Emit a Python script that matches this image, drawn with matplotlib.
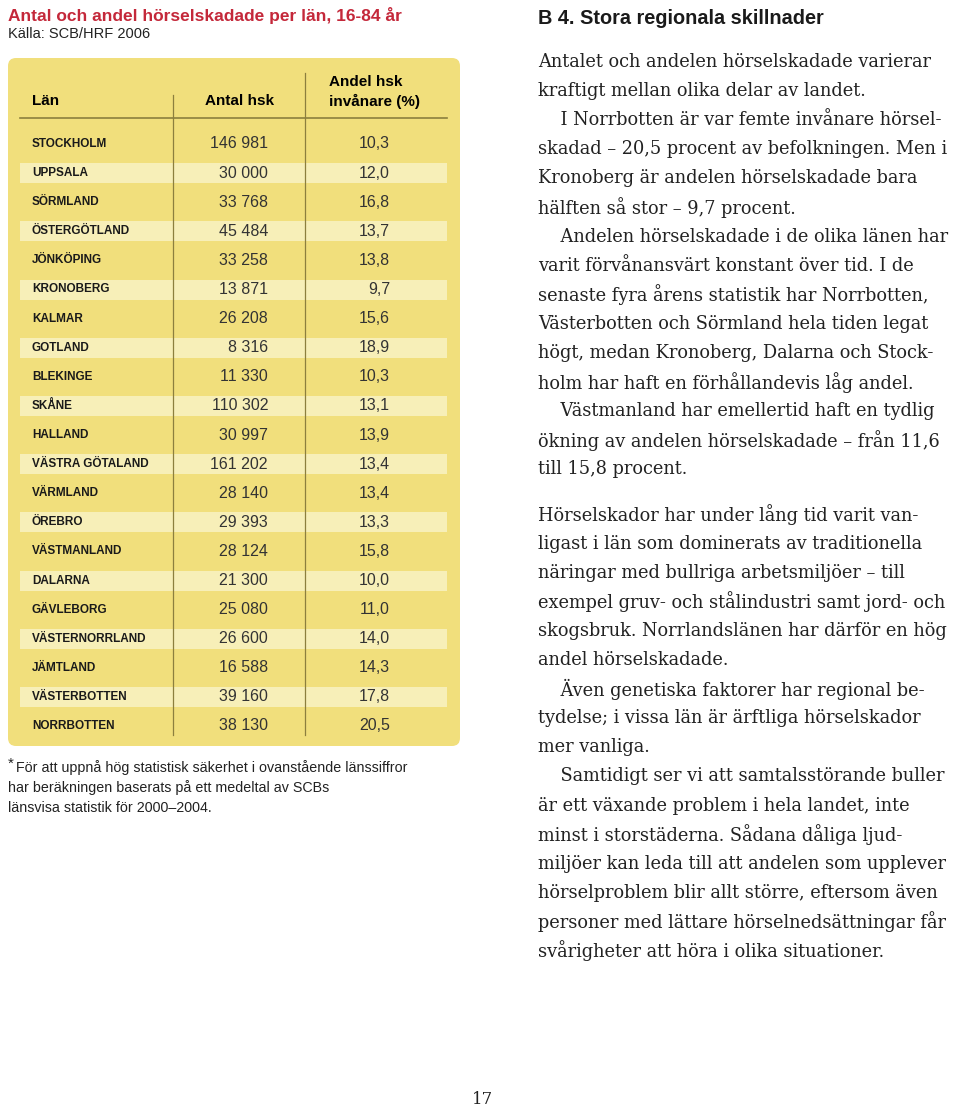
import matplotlib.pyplot as plt
from matplotlib.patches import FancyBboxPatch, Rectangle

# table data
lan = ['STOCKHOLM', 'UPPSALA', 'SÖRMLAND', 'ÖSTERGÖTLAND', 'JÖNKÖPING', 'KRONOBERG',
       'KALMAR', 'GOTLAND', 'BLEKINGE', 'SKÅNE', 'HALLAND', 'VÄSTRA GÖTALAND',
       'VÄRMLAND', 'ÖREBRO', 'VÄSTMANLAND', 'DALARNA', 'GÄVLEBORG',
       'VÄSTERNORRLAND', 'JÄMTLAND', 'VÄSTERBOTTEN', 'NORRBOTTEN']
antal = [146981, 30000, 33768, 45484, 33258, 13871, 26208, 8316, 11330, 110302,
         30997, 161202, 28140, 29393, 28124, 21300, 25080, 26600, 16588, 39160, 38130]
andel = [10.3, 12.0, 16.8, 13.7, 13.8, 9.7, 15.6, 18.9, 10.3, 13.1, 13.9, 13.4,
         13.4, 13.3, 15.8, 10.0, 11.0, 14.0, 14.3, 17.8, 20.5]

# body text of the right column (indent marks a new paragraph)
body = [
    "Antalet och andelen hörselskadade varierar",
    "kraftigt mellan olika delar av landet.",
    "    I Norrbotten är var femte invånare hörsel-",
    "skadad – 20,5 procent av befolkningen. Men i",
    "Kronoberg är andelen hörselskadade bara",
    "hälften så stor – 9,7 procent.",
    "    Andelen hörselskadade i de olika länen har",
    "varit förvånansvärt konstant över tid. I de",
    "senaste fyra årens statistik har Norrbotten,",
    "Västerbotten och Sörmland hela tiden legat",
    "högt, medan Kronoberg, Dalarna och Stock-",
    "holm har haft en förhållandevis låg andel.",
    "    Västmanland har emellertid haft en tydlig",
    "ökning av andelen hörselskadade – från 11,6",
    "till 15,8 procent.",
    "",
    "Hörselskador har under lång tid varit van-",
    "ligast i län som dominerats av traditionella",
    "näringar med bullriga arbetsmiljöer – till",
    "exempel gruv- och stålindustri samt jord- och",
    "skogsbruk. Norrlandslänen har därför en hög",
    "andel hörselskadade.",
    "    Även genetiska faktorer har regional be-",
    "tydelse; i vissa län är ärftliga hörselskador",
    "mer vanliga.",
    "    Samtidigt ser vi att samtalsstörande buller",
    "är ett växande problem i hela landet, inte",
    "minst i storstäderna. Sådana dåliga ljud-",
    "miljöer kan leda till att andelen som upplever",
    "hörselproblem blir allt större, eftersom även",
    "personer med lättare hörselnedsättningar får",
    "svårigheter att höra i olika situationer.",
]

sans = ['Liberation Sans', 'DejaVu Sans']
serif = ['DejaVu Serif']

fig = plt.figure(figsize=(9.6, 11.08), dpi=100)
ax = fig.add_axes([0, 0, 1, 1])
ax.set_xlim(0, 960)
ax.set_ylim(1108, 0)
ax.axis('off')

# left: title and table
red = '#c4283a'
ax.text(8, 16, 'Antal och andel hörselskadade per län, 16-84 år', color=red,
        fontsize=12.5, fontweight='bold', family=sans, va='center')
ax.text(8, 34, 'Källa: SCB/HRF 2006', color='#222222', fontsize=10.5,
        family=sans, va='center')

ax.add_patch(FancyBboxPatch((12, 62), 444, 680, boxstyle='round,pad=4,rounding_size=8',
                            fc='#f1df7c', ec='none'))

row0, step = 144, 29.1
for i in range(len(lan)):
    y = row0 + i * step
    if i % 2 == 1:
        ax.add_patch(Rectangle((20, y - 10), 427, 20, fc='#f7efb8', ec='none'))
    ax.text(32, y, lan[i], fontsize=8.5, fontweight='bold', family=sans,
            color='#1a1a1a', va='center')
    ax.text(268, y, f'{antal[i]:,}'.replace(',', ' '), fontsize=11.5, family=sans,
            color='#333333', va='center', ha='right')
    ax.text(390, y, f'{andel[i]:.1f}'.replace('.', ','), fontsize=11.5, family=sans,
            color='#333333', va='center', ha='right')

ax.text(32, 101, 'Län', fontsize=11, fontweight='bold', family=sans, va='center')
ax.text(274, 101, 'Antal hsk', fontsize=11, fontweight='bold', family=sans,
        va='center', ha='right')
ax.text(329, 82, 'Andel hsk', fontsize=11, fontweight='bold', family=sans, va='center')
ax.text(329, 101, 'invånare (%)', fontsize=11, fontweight='bold', family=sans, va='center')

line_c = '#8c7f3e'
ax.plot([20, 447], [118, 118], color=line_c, lw=1.2)
ax.plot([173, 173], [95, 735], color=line_c, lw=0.9)
ax.plot([305, 305], [73, 735], color=line_c, lw=0.9)

ax.text(8, 764, '*', fontsize=11, family=sans, va='center', color='#222222')
ax.text(16, 768, 'För att uppnå hög statistisk säkerhet i ovanstående länssiffror',
        fontsize=10.3, family=sans, va='center', color='#222222')
ax.text(8, 788, 'har beräkningen baserats på ett medeltal av SCBs',
        fontsize=10.3, family=sans, va='center', color='#222222')
ax.text(8, 808, 'länsvisa statistik för 2000–2004.',
        fontsize=10.3, family=sans, va='center', color='#222222')

# right column
ax.text(538, 18, 'B 4. Stora regionala skillnader', fontsize=14.3, fontweight='bold',
        family=sans, va='center', color='#1a1a1a')

y = 62
for line in body:
    if line == "":
        y += 16
        continue
    ax.text(538, y, line, fontsize=12.8, family=serif, va='center', color='#222222')
    y += 29.1

ax.text(483, 1100, '17', fontsize=12, family=serif, va='center', ha='center',
        color='#222222')

fig.savefig('out.png', dpi=100)
